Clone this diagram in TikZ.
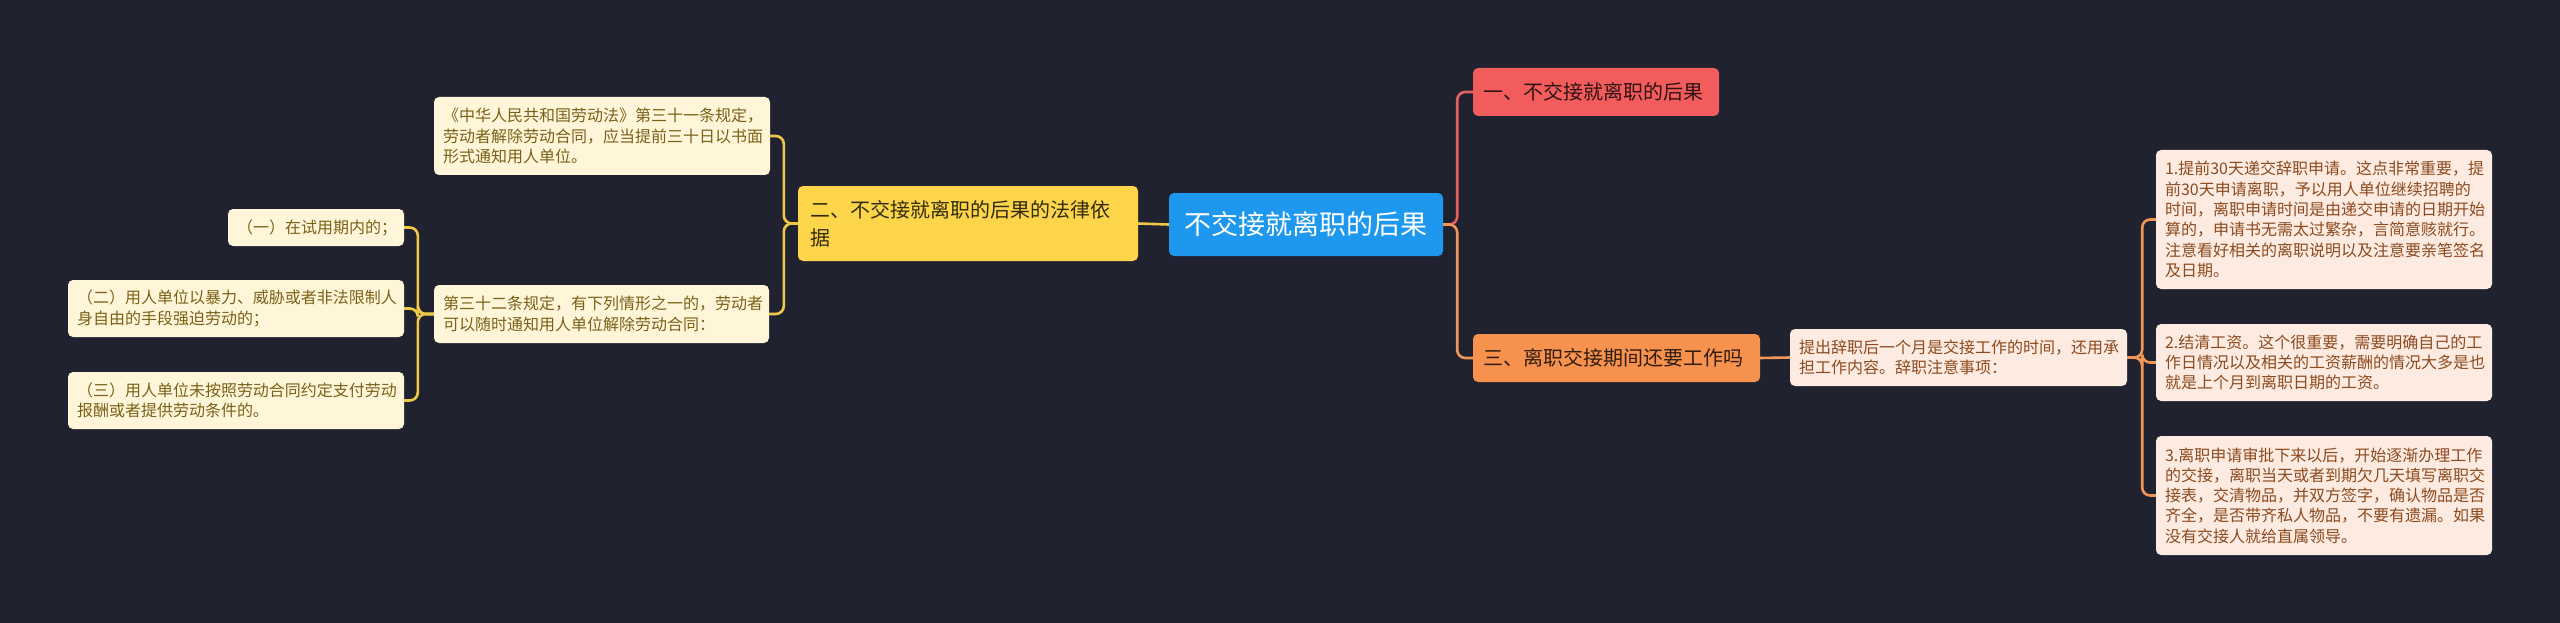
\documentclass[tikz,border=0pt]{standalone}
\usepackage{fontspec}
\newfontfamily\cjk{Noto Sans CJK SC}
\definecolor{bg}{HTML}{20232F}
\definecolor{cblue}{HTML}{1E98EE}
\definecolor{cred}{HTML}{F25C5C}
\definecolor{corange}{HTML}{F7924E}
\definecolor{cyellow}{HTML}{FCD54A}
\definecolor{lfill}{HTML}{FFF6DA}
\definecolor{ltext}{HTML}{7A6118}
\definecolor{rfill}{HTML}{FDEBE1}
\definecolor{rtext}{HTML}{8C4A1E}
\definecolor{lline}{HTML}{EFC84A}
\definecolor{redline}{HTML}{E5605F}
\definecolor{orline}{HTML}{F29656}
\tikzset{
  box/.style={rounded corners=5pt, inner ysep=0pt, align=left},
  leafL/.style={box, fill=lfill, text=ltext, inner xsep=9pt, font=\cjk\fontsize{16}{20.3}\selectfont},
  leafR/.style={box, fill=rfill, text=rtext, inner xsep=9pt, font=\cjk\fontsize{16}{20.3}\selectfont},
  mainbox/.style={box, align=center, fill=cblue, text=white, font=\cjk\fontsize{27}{32}\selectfont},
  branch/.style={box, inner xsep=10pt, font=\cjk\fontsize{20}{28}\selectfont},
  lk/.style={line width=2.6pt, rounded corners=8pt},
}
\begin{document}
\begin{tikzpicture}[x=1pt,y=-1pt]
\useasboundingbox (0,0) rectangle (2560,623);
\fill[bg] (0,0) rectangle (2560,623);

% nodes
\node[mainbox, minimum width=274, minimum height=63] (c) at (1306,224.5) {不交接就离职的后果};
\node[branch, fill=cred, text=black!80!cred, text width=226, minimum height=48] (r1) at (1596,92) {一、不交接就离职的后果};
\node[branch, fill=corange, text=black!80!corange, text width=267, minimum height=48] (r3) at (1616.5,358) {三、离职交接期间还要工作吗};
\node[branch, fill=cyellow, text=black!80!cyellow, inner xsep=12pt, text width=316, minimum height=75] (l2) at (968,223.5) {二、不交接就离职的后果的法律依\\据};

\node[leafL, text width=318, minimum height=78] (la) at (602,136) {《中华人民共和国劳动法》第三十一条规定，\\劳动者解除劳动合同，应当提前三十日以书面\\形式通知用人单位。};
\node[leafL, text width=317, minimum height=58] (lb) at (601.5,314) {第三十二条规定，有下列情形之一的，劳动者\\可以随时通知用人单位解除劳动合同：};
\node[leafL, text width=158, minimum height=37, align=center] (lb1) at (316,227.5) {（一）在试用期内的；};
\node[leafL, text width=318, minimum height=57] (lb2) at (236,308.5) {（二）用人单位以暴力、威胁或者非法限制人\\身自由的手段强迫劳动的；};
\node[leafL, text width=318, minimum height=57] (lb3) at (236,400.5) {（三）用人单位未按照劳动合同约定支付劳动\\报酬或者提供劳动条件的。};

\node[leafR, text width=319, minimum height=57] (rr) at (1958.5,357.5) {提出辞职后一个月是交接工作的时间，还用承\\担工作内容。辞职注意事项：};
\node[leafR, text width=318, minimum height=139] (rr1) at (2324,219.5) {1.提前30天递交辞职申请。这点非常重要，提\\前30天申请离职，予以用人单位继续招聘的\\时间，离职申请时间是由递交申请的日期开始\\算的，申请书无需太过繁杂，言简意赅就行。\\注意看好相关的离职说明以及注意要亲笔签名\\及日期。};
\node[leafR, text width=318, minimum height=77] (rr2) at (2324,362.5) {2.结清工资。这个很重要，需要明确自己的工\\作日情况以及相关的工资薪酬的情况大多是也\\就是上个月到离职日期的工资。};
\node[leafR, text width=318, minimum height=119] (rr3) at (2324,495.5) {3.离职申请审批下来以后，开始逐渐办理工作\\的交接，离职当天或者到期欠几天填写离职交\\接表，交清物品，并双方签字，确认物品是否\\齐全，是否带齐私人物品，不要有遗漏。如果\\没有交接人就给直属领导。};

% connectors (drawn behind nodes)
\begin{scope}[on background layer/.try]
\end{scope}
\draw[lk, lline] (c.west) -- (l2.east);
\draw[lk, lline] (l2.west) -- ++(-14,0) |- (la.east);
\draw[lk, lline] (l2.west) -- ++(-14,0) |- (lb.east);
\draw[lk, lline] (lb.west) -- ++(-16,0) |- (lb1.east);
\draw[lk, lline] (lb.west) -- ++(-16,0) |- (lb2.east);
\draw[lk, lline] (lb.west) -- ++(-16,0) |- (lb3.east);

\draw[lk, redline] (c.east) -- ++(14,0) |- (r1.west);
\draw[lk, orline] (c.east) -- ++(14,0) |- (r3.west);
\draw[lk, orline] (r3.east) -- (rr.west);
\draw[lk, orline] (rr.east) -- ++(15,0) |- (rr1.west);
\draw[lk, orline] (rr.east) -- ++(15,0) |- (rr2.west);
\draw[lk, orline] (rr.east) -- ++(15,0) |- (rr3.west);
\end{tikzpicture}
\end{document}
